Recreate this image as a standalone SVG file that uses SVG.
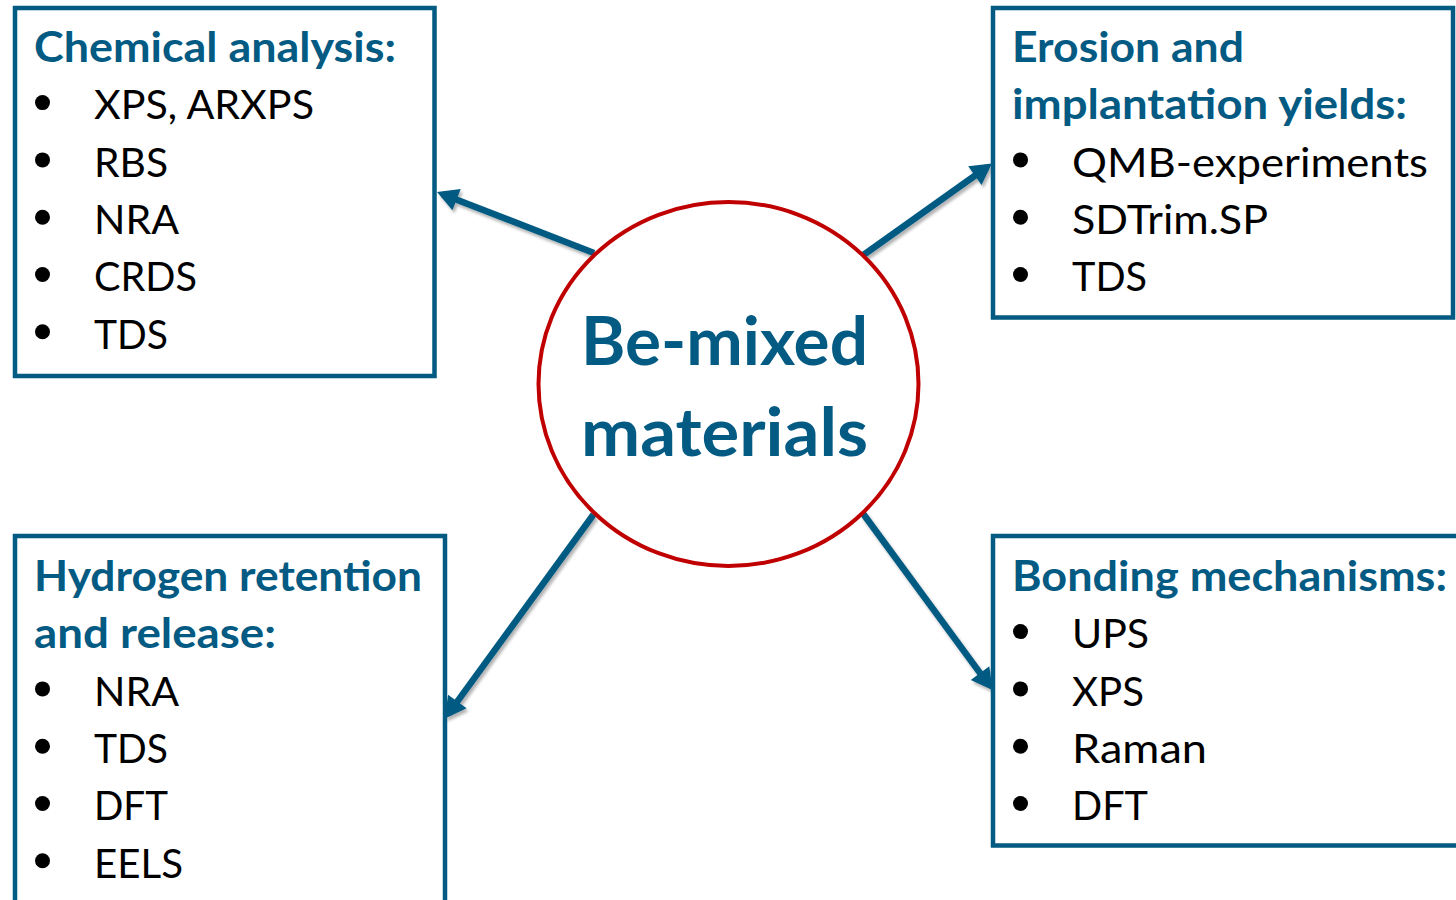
<svg xmlns="http://www.w3.org/2000/svg" width="1456" height="900" viewBox="0 0 1456 900">
  <style>
    .box { fill: #ffffff; stroke: #035A82; stroke-width: 4.5; }
    .head { font-family: Lato, "Open Sans", sans-serif; font-weight: 700; font-size: 42px; fill: #035A82; }
    .item { font-family: Lato, "Open Sans", sans-serif; font-weight: 400; font-size: 41px; fill: #000000; }
    .dot { fill: #000000; }
    .link { stroke: #035A82; stroke-width: 6.5; fill: none; marker-end: url(#head); filter: url(#shade); }
    .hub { fill: #ffffff; stroke: #C00000; stroke-width: 4; }
    .hubtext { font-family: Lato, "Open Sans", sans-serif; font-weight: 700; font-size: 67px; fill: #035A82; }
  </style>
  <defs>
    <marker id="head" markerUnits="userSpaceOnUse" markerWidth="22" markerHeight="24" refX="15" refY="11.5" orient="auto" overflow="visible">
      <path d="M0,0 L21,11.5 L0,23 Z" fill="#035A82"/>
    </marker>
    <filter id="shade" x="-20%" y="-20%" width="140%" height="140%">
      <feDropShadow dx="2" dy="3" stdDeviation="1.8" flood-color="#000000" flood-opacity="0.3"/>
    </filter>
  </defs>

  <rect width="1456" height="900" fill="#ffffff"/>

  <!-- links from the hub out to the four topic boxes -->
  <g id="connectors">
    <path class="link" d="M594,253 L442.6,194.2"/>
    <path class="link" d="M862,256 L987.1,167"/>
    <path class="link" d="M593.5,514.5 L448.5,713.6"/>
    <path class="link" d="M863,513.5 L988.9,685.2"/>
  </g>

  <!-- central hub -->
  <g id="hub">
    <ellipse class="hub" cx="728.5" cy="384" rx="190" ry="182"/>
    <text class="hubtext" x="581" y="365" textLength="287" lengthAdjust="spacingAndGlyphs">Be-mixed</text>
    <text class="hubtext" x="581" y="456" textLength="287" lengthAdjust="spacingAndGlyphs">materials</text>
  </g>

  <!-- top left: chemical analysis -->
  <g id="chemical-analysis">
    <rect class="box" x="15" y="8" width="419.5" height="368"/>
    <text class="head" x="34" y="62" textLength="362" lengthAdjust="spacingAndGlyphs">Chemical analysis:</text>
    <circle class="dot" cx="42.5" cy="102.6" r="7.5"/>
    <text class="item" x="94" y="119.3" textLength="220" lengthAdjust="spacingAndGlyphs">XPS, ARXPS</text>
    <circle class="dot" cx="42.5" cy="159.9" r="7.5"/>
    <text class="item" x="94" y="176.6" textLength="74" lengthAdjust="spacingAndGlyphs">RBS</text>
    <circle class="dot" cx="42.5" cy="217.2" r="7.5"/>
    <text class="item" x="94" y="233.9" textLength="85" lengthAdjust="spacingAndGlyphs">NRA</text>
    <circle class="dot" cx="42.5" cy="274.5" r="7.5"/>
    <text class="item" x="94" y="291.2" textLength="103" lengthAdjust="spacingAndGlyphs">CRDS</text>
    <circle class="dot" cx="42.5" cy="331.8" r="7.5"/>
    <text class="item" x="94" y="348.5" textLength="74" lengthAdjust="spacingAndGlyphs">TDS</text>
  </g>

  <!-- top right: erosion and implantation yields -->
  <g id="erosion-yields">
    <rect class="box" x="993" y="8" width="460" height="309.5"/>
    <text class="head" x="1012" y="62" textLength="232" lengthAdjust="spacingAndGlyphs">Erosion and</text>
    <text class="head" x="1012" y="119.3" textLength="395" lengthAdjust="spacingAndGlyphs">implantation yields:</text>
    <circle class="dot" cx="1020.5" cy="159.9" r="7.5"/>
    <text class="item" x="1072" y="176.6" textLength="356" lengthAdjust="spacingAndGlyphs">QMB-experiments</text>
    <circle class="dot" cx="1020.5" cy="217.2" r="7.5"/>
    <text class="item" x="1072" y="233.9" textLength="196" lengthAdjust="spacingAndGlyphs">SDTrim.SP</text>
    <circle class="dot" cx="1020.5" cy="274.5" r="7.5"/>
    <text class="item" x="1072" y="291.2" textLength="75" lengthAdjust="spacingAndGlyphs">TDS</text>
  </g>

  <!-- bottom left: hydrogen retention and release -->
  <g id="hydrogen-retention">
    <rect class="box" x="15" y="536" width="430" height="400"/>
    <text class="head" x="34" y="591" textLength="388" lengthAdjust="spacingAndGlyphs">Hydrogen retention</text>
    <text class="head" x="34" y="648.3" textLength="242" lengthAdjust="spacingAndGlyphs">and release:</text>
    <circle class="dot" cx="42.5" cy="688.9" r="7.5"/>
    <text class="item" x="94" y="705.6" textLength="85" lengthAdjust="spacingAndGlyphs">NRA</text>
    <circle class="dot" cx="42.5" cy="746.2" r="7.5"/>
    <text class="item" x="94" y="762.9" textLength="74" lengthAdjust="spacingAndGlyphs">TDS</text>
    <circle class="dot" cx="42.5" cy="803.5" r="7.5"/>
    <text class="item" x="94" y="820.2" textLength="74" lengthAdjust="spacingAndGlyphs">DFT</text>
    <circle class="dot" cx="42.5" cy="860.8" r="7.5"/>
    <text class="item" x="94" y="877.5" textLength="89" lengthAdjust="spacingAndGlyphs">EELS</text>
  </g>

  <!-- bottom right: bonding mechanisms -->
  <g id="bonding-mechanisms">
    <rect class="box" x="993" y="536" width="480" height="309.5"/>
    <text class="head" x="1012" y="591" textLength="435" lengthAdjust="spacingAndGlyphs">Bonding mechanisms:</text>
    <circle class="dot" cx="1020.5" cy="631.6" r="7.5"/>
    <text class="item" x="1072" y="648.3" textLength="77" lengthAdjust="spacingAndGlyphs">UPS</text>
    <circle class="dot" cx="1020.5" cy="688.9" r="7.5"/>
    <text class="item" x="1072" y="705.6" textLength="72" lengthAdjust="spacingAndGlyphs">XPS</text>
    <circle class="dot" cx="1020.5" cy="746.2" r="7.5"/>
    <text class="item" x="1072" y="762.9" textLength="135" lengthAdjust="spacingAndGlyphs">Raman</text>
    <circle class="dot" cx="1020.5" cy="803.5" r="7.5"/>
    <text class="item" x="1072" y="820.2" textLength="76" lengthAdjust="spacingAndGlyphs">DFT</text>
  </g>
</svg>
